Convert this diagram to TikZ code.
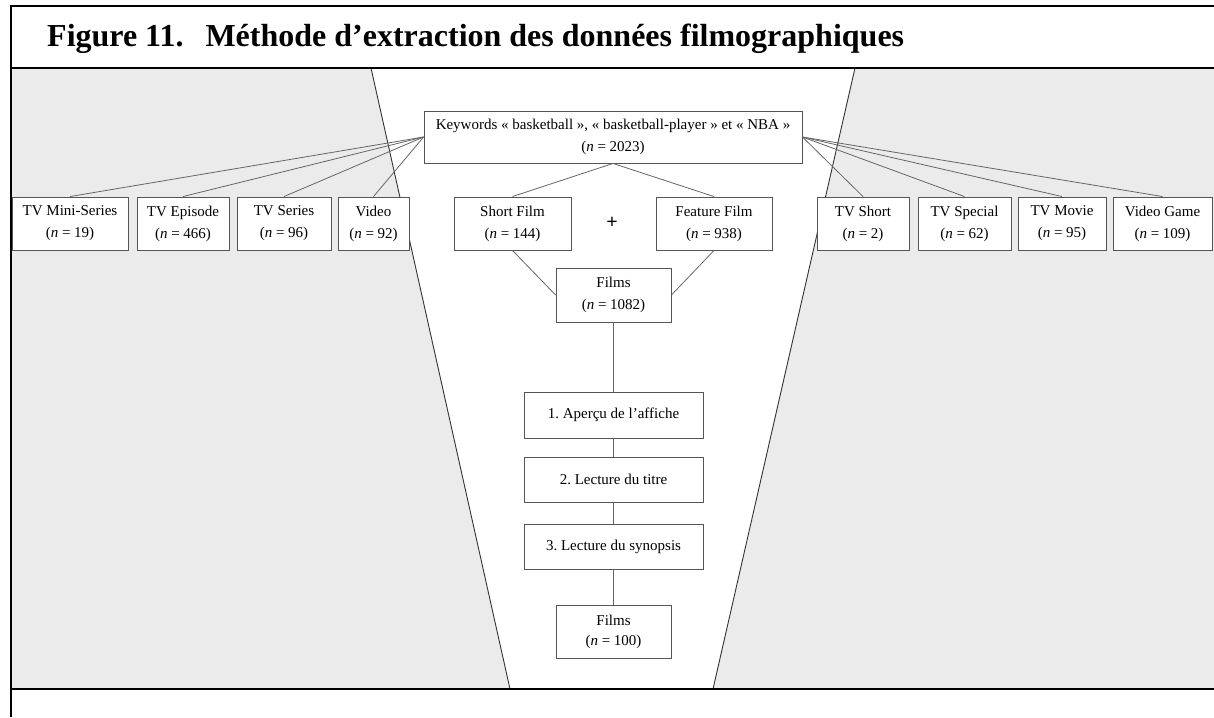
\documentclass[tikz,border=0pt]{standalone}
\usepackage{fontspec}
\setmainfont{Liberation Serif}
\definecolor{bggray}{HTML}{EBEBEB}
\definecolor{boxline}{HTML}{555555}
\definecolor{conn}{HTML}{666666}
\definecolor{funnel}{HTML}{333333}
\tikzset{
  boxnode/.style={draw=boxline, fill=white, line width=0.9pt, align=center, inner sep=0pt,
    font=\fontsize{15}{22}\selectfont, minimum height=53pt},
  connline/.style={draw=conn, line width=0.8pt},
  frameline/.style={draw=black, line width=2.6pt},
}
\frenchspacing
\begin{document}
\begin{tikzpicture}[x=1pt,y=-1pt]
\useasboundingbox (0,0) rectangle (1214,717);
% background
\fill[white] (0,0) rectangle (1214,717);
\fill[bggray] (11,68) rectangle (1214,689);
% funnel
\fill[white] (371,68) -- (855,68) -- (713,689) -- (510,689) -- cycle;
\draw[funnel, line width=0.9pt] (371,68) -- (510,689);
\draw[funnel, line width=0.9pt] (855,68) -- (713,689);
% frame
\draw[frameline] (11,717) -- (11,6) -- (1214,6);
\draw[frameline] (11,68) -- (1214,68);
\draw[frameline] (11,689) -- (1214,689);
% title
\node[anchor=base west, inner sep=0pt, font=\fontsize{32}{36}\selectfont\bfseries] (title) at (47,47)
  {Figure 11.\hspace*{22pt}Méthode d’extraction des données filmographiques};
% nodes
\node[boxnode, minimum width=378pt, minimum height=52pt] (kw) at (613,137)
  {Keywords « basketball », « basketball-player » et « NBA »\\(\textit{n} = 2023)};
\node[boxnode, minimum width=116pt] (mini) at (70,223.5) {TV Mini-Series\\(\textit{n} = 19)};
\node[boxnode, minimum width=92pt] (epi) at (183,223.5) {TV Episode\\(\textit{n} = 466)};
\node[boxnode, minimum width=94pt] (ser) at (284,223.5) {TV Series\\(\textit{n} = 96)};
\node[boxnode, minimum width=71pt] (vid) at (373.5,223.5) {Video\\(\textit{n} = 92)};
\node[boxnode, minimum width=117pt] (short) at (512.5,223.5) {Short Film\\(\textit{n} = 144)};
\node[boxnode, minimum width=116pt] (feat) at (714,223.5) {Feature Film\\(\textit{n} = 938)};
\node[inner sep=0pt, font=\fontsize{20}{22}\selectfont\bfseries] (plus) at (612,223) {+};
\node[boxnode, minimum width=115pt, minimum height=54pt] (films1) at (613.5,295) {Films\\(\textit{n} = 1082)};
\node[boxnode, minimum width=92pt] (tvs) at (863,223.5) {TV Short\\(\textit{n} = 2)};
\node[boxnode, minimum width=93pt] (spec) at (964.5,223.5) {TV Special\\(\textit{n} = 62)};
\node[boxnode, minimum width=88pt] (mov) at (1062,223.5) {TV Movie\\(\textit{n} = 95)};
\node[boxnode, minimum width=99pt] (vg) at (1162.5,223.5) {Video Game\\(\textit{n} = 109)};
\node[boxnode, minimum width=179pt, minimum height=46pt] (s1) at (613.5,415) {1. Aperçu de l’affiche};
\node[boxnode, minimum width=179pt, minimum height=45pt] (s2) at (613.5,479.5) {2. Lecture du titre};
\node[boxnode, minimum width=179pt, minimum height=45pt] (s3) at (613.5,546.5) {3. Lecture du synopsis};
\node[boxnode, minimum width=115pt, minimum height=53pt, font=\fontsize{15}{20}\selectfont] (films2) at (613.5,631.5) {Films\\(\textit{n} = 100)};
% connectors
\foreach \b in {mini,epi,ser,vid} \draw[connline] (kw.west) -- (\b.north);
\foreach \b in {tvs,spec,mov,vg} \draw[connline] (kw.east) -- (\b.north);
\draw[connline] (kw.south) -- (short.north);
\draw[connline] (kw.south) -- (feat.north);
\draw[connline] (short.south) -- (films1.west);
\draw[connline] (feat.south) -- (films1.east);
\draw[connline] (films1.south) -- (s1.north);
\draw[connline] (s1.south) -- (s2.north);
\draw[connline] (s2.south) -- (s3.north);
\draw[connline] (s3.south) -- (films2.north);
\end{tikzpicture}
\end{document}
